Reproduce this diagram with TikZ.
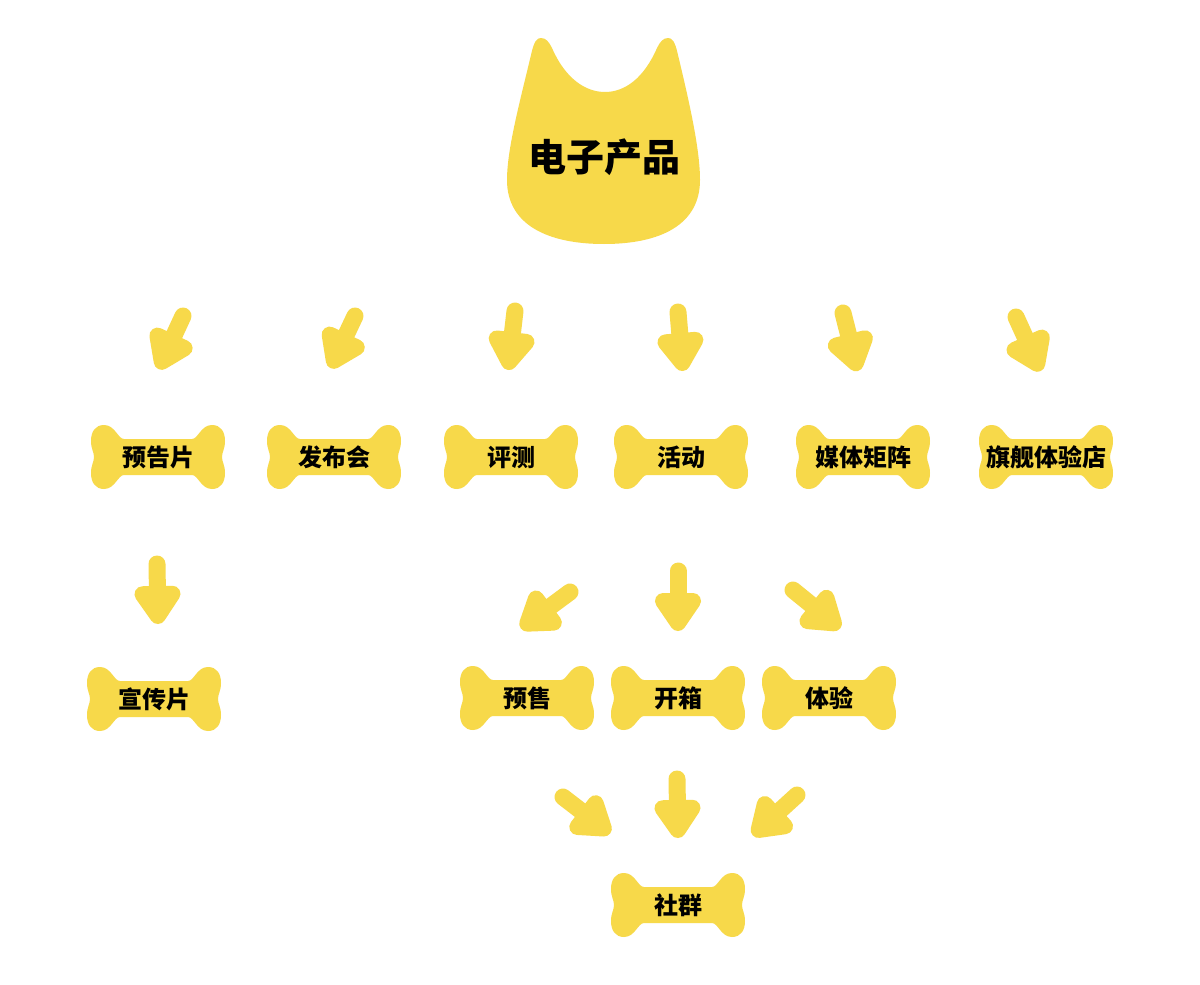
\documentclass[tikz,border=0pt]{standalone}
\usepackage{fontspec}
\newfontfamily\cjk{Noto Sans CJK SC}
\usetikzlibrary{calc}
\definecolor{yel}{HTML}{F7D94A}
\tikzset{
  shaft/.style={draw=yel, line width=17pt, line cap=round},
  head/.style={draw=yel, fill=yel, line width=16pt, line join=round},
  bonetext/.style={font=\cjk\bfseries\fontsize{24}{28}\selectfont, text=black, inner sep=0pt},
  cattext/.style={font=\cjk\bfseries\fontsize{38}{44}\selectfont, text=black, inner sep=0pt},
}
\newcommand{\bonepath}{(0,-18) -- (34,-18) .. controls (40,-18) and (43,-32) .. (54,-32) .. controls (63,-32) and (67,-25) .. (67,-16) .. controls (67,-8) and (64,-5) .. (64,0) .. controls (64,5) and (67,8) .. (67,16) .. controls (67,25) and (63,32) .. (54,32) .. controls (43,32) and (40,18) .. (34,18) -- (-34,18) .. controls (-40,18) and (-43,32) .. (-54,32) .. controls (-63,32) and (-67,25) .. (-67,16) .. controls (-67,8) and (-64,5) .. (-64,0) .. controls (-64,-5) and (-67,-8) .. (-67,-16) .. controls (-67,-25) and (-63,-32) .. (-54,-32) .. controls (-43,-32) and (-40,-18) .. (-34,-18) -- cycle}
\newcommand{\bone}[3]{%
  \fill[yel, shift={(#2)}] \bonepath;
  \node[bonetext] (#1) at (#2) {#3};}
\newcommand{\fatarrow}[2]{%
  \coordinate (#1-b) at ($(#2)!31pt!(#1)$);
  \coordinate (#1-a) at ($(#2)!9pt!(#1)$);
  \draw[shaft] (#1) -- (#1-b);
  \filldraw[head] (#1-a) -- ($(#1-b)!15pt!90:(#2)$) -- ($(#1-b)!15pt!-90:(#2)$) -- cycle;}
\begin{document}
\begin{tikzpicture}[x=1pt, y=-1pt]
\fill[white] (0,0) rectangle (1200,985);
\useasboundingbox (0,0) rectangle (1200,985);
% cat head
\fill[yel] (531,55) .. controls (534,41) and (537,38) .. (541,38)
  .. controls (546,38) and (549,42) .. (552,48)
  .. controls (565,78) and (585,92) .. (605,92)
  .. controls (625,92) and (644,78) .. (657,48)
  .. controls (660,42) and (663,38) .. (668,38)
  .. controls (672,38) and (675,41) .. (678,55)
  .. controls (690,105) and (700,150) .. (700,180)
  .. controls (700,225) and (660,244) .. (604,244)
  .. controls (548,244) and (507,225) .. (507,180)
  .. controls (507,150) and (519,105) .. (531,55) -- cycle;
\node[cattext] (cat) at (604,157) {电子产品};
% bones
\bone{b1}{158,457}{预告片}
\bone{b2}{334,457}{发布会}
\bone{b3}{511,457}{评测}
\bone{b4}{681,457}{活动}
\bone{b5}{863,457}{媒体矩阵}
\bone{b6}{1046,457}{旗舰体验店}
\bone{c1}{154,699}{宣传片}
\bone{c2}{527,698}{预售}
\bone{c3}{678,698}{开箱}
\bone{c4}{829,698}{体验}
\bone{d1}{678,905}{社群}
% arrow coordinates
\coordinate (a1t) at (183,316); \coordinate (a1h) at (158,370);
\coordinate (a2t) at (355,316); \coordinate (a2h) at (330,369);
\coordinate (a3t) at (515,311); \coordinate (a3h) at (508,371);
\coordinate (a4t) at (678,312); \coordinate (a4h) at (683,372);
\coordinate (a5t) at (843,313); \coordinate (a5h) at (858,372);
\coordinate (a6t) at (1016,317); \coordinate (a6h) at (1041,372);
\coordinate (a7t) at (157,564); \coordinate (a7h) at (158,625);
\coordinate (a8t) at (570,592); \coordinate (a8h) at (520,629);
\coordinate (a9t) at (678,571); \coordinate (a9h) at (678,632);
\coordinate (a10t) at (793,590); \coordinate (a10h) at (841,629);
\coordinate (a11t) at (563,797); \coordinate (a11h) at (611,834);
\coordinate (a12t) at (677,779); \coordinate (a12h) at (678,839);
\coordinate (a13t) at (797,795); \coordinate (a13h) at (752,836);
\fatarrow{a1t}{a1h}
\fatarrow{a2t}{a2h}
\fatarrow{a3t}{a3h}
\fatarrow{a4t}{a4h}
\fatarrow{a5t}{a5h}
\fatarrow{a6t}{a6h}
\fatarrow{a7t}{a7h}
\fatarrow{a8t}{a8h}
\fatarrow{a9t}{a9h}
\fatarrow{a10t}{a10h}
\fatarrow{a11t}{a11h}
\fatarrow{a12t}{a12h}
\fatarrow{a13t}{a13h}
\end{tikzpicture}
\end{document}
